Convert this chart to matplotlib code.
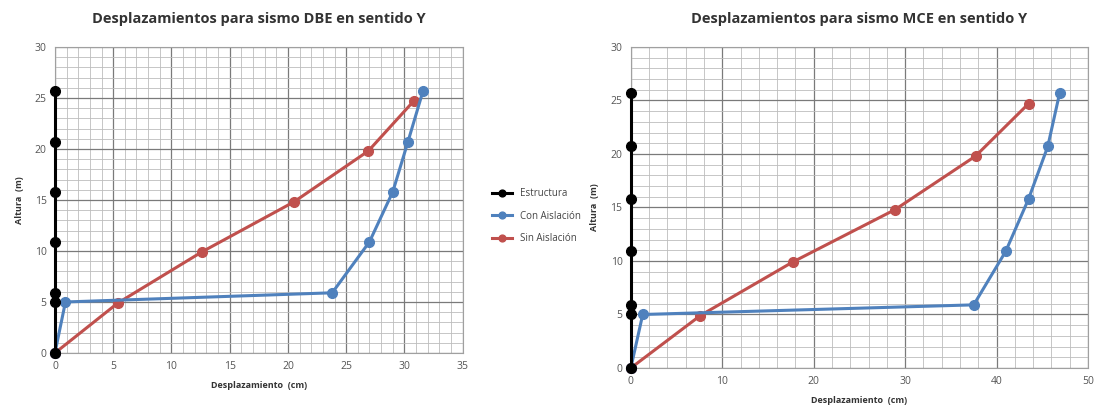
import matplotlib.pyplot as plt
from matplotlib.ticker import MultipleLocator

# alturas de nivel (m)
h_est = [0, 5.0, 5.9, 10.9, 15.8, 20.7, 25.7]
x_est = [0, 0, 0, 0, 0, 0, 0]

h_con = [0, 5.0, 5.9, 10.9, 15.8, 20.7, 25.7]
h_sin = [0, 4.9, 9.9, 14.8, 19.8, 24.7]

# DBE
dbe_con = [0, 0.9, 23.8, 27.0, 29.0, 30.3, 31.6]
dbe_sin = [0, 5.4, 12.6, 20.5, 26.9, 30.8]

# MCE
mce_con = [0, 1.3, 37.5, 41.0, 43.5, 45.6, 46.9]
mce_sin = [0, 7.6, 17.7, 28.9, 37.7, 43.5]

titles = ["Desplazamientos para sismo DBE en sentido Y",
          "Desplazamientos para sismo MCE en sentido Y"]
labels = ["Estructura", "Con Aislación", "Sin Aislación"]

c_black = "#000000"
c_blue = "#4F81BD"
c_red = "#C0504D"

plt.rcParams['font.family'] = ['Open Sans', 'DejaVu Sans']

fig = plt.figure(figsize=(10.99, 4.17), dpi=100)
ax1 = fig.add_axes([0.050, 0.1535, 0.371, 0.734])
ax2 = fig.add_axes([0.574, 0.1175, 0.416, 0.770])

setups = [
    (ax1, dbe_con, dbe_sin, 35, 5, 1, titles[0]),
    (ax2, mce_con, mce_sin, 50, 10, 2, titles[1]),
]

for ax, con, sin, xmax, xmaj, xmin, title in setups:
    l1, = ax.plot(x_est, h_est, color=c_black, lw=2.2, marker='o', ms=7, zorder=5, clip_on=False)
    l2, = ax.plot(con, h_con, color=c_blue, lw=2.2, marker='o', ms=7, zorder=4, clip_on=False)
    l3, = ax.plot(sin, h_sin, color=c_red, lw=2.2, marker='o', ms=7, zorder=3, clip_on=False)
    ax.set_xlim(0, xmax)
    ax.set_ylim(0, 30)
    ax.xaxis.set_major_locator(MultipleLocator(xmaj))
    ax.xaxis.set_minor_locator(MultipleLocator(xmin))
    ax.yaxis.set_major_locator(MultipleLocator(5))
    ax.yaxis.set_minor_locator(MultipleLocator(1))
    ax.grid(which='major', color='#7a7a7a', lw=0.9)
    ax.grid(which='minor', color='#bdbdbd', lw=0.6)
    ax.set_axisbelow(True)
    for s in ax.spines.values():
        s.set_color('#a0a0a0')
        s.set_linewidth(0.8)
    ax.tick_params(which='both', length=0, labelsize=7.5, colors='#555555', pad=6)
    ax.set_title(title, fontsize=10.5, fontweight='bold', color='#333333', pad=17)
    ax.set_xlabel("Desplazamiento  (cm)", fontsize=6.5, fontweight='bold', color='#333333', labelpad=6)
    ax.set_ylabel("Altura  (m)", fontsize=6.5, fontweight='bold', color='#333333', labelpad=8)

fig.legend([l1, l2, l3], labels, loc='upper left', bbox_to_anchor=(0.44, 0.57),
           frameon=False, fontsize=7, handlelength=2.0, labelspacing=1.2, labelcolor='#444444',
           markerscale=0.7)

fig.savefig("out.png", dpi=100)
